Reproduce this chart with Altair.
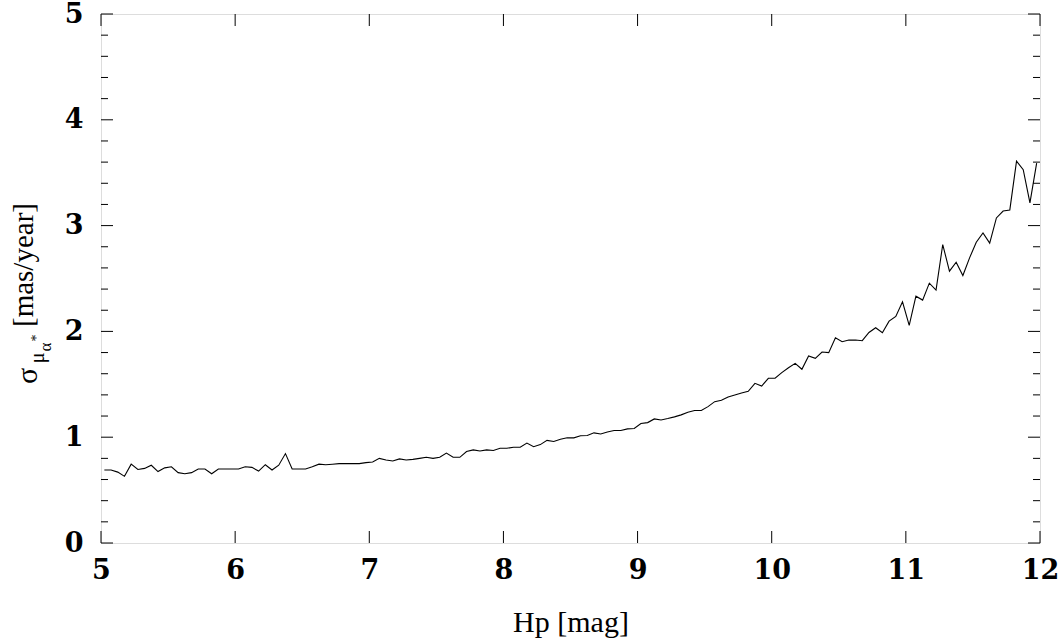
import altair as alt
import pandas as pd

# Hp magnitude bin centres
HP = [5.025, 5.075, 5.125, 5.175, 5.225, 5.275, 5.325, 5.375, 5.425, 5.475,
      5.525, 5.575, 5.625, 5.675, 5.725, 5.775, 5.825, 5.875, 5.925, 5.975,
      6.025, 6.075, 6.125, 6.175, 6.225, 6.275, 6.325, 6.375, 6.425, 6.475,
      6.525, 6.575, 6.625, 6.675, 6.725, 6.775, 6.825, 6.875, 6.925, 6.975,
      7.025, 7.075, 7.125, 7.175, 7.225, 7.275, 7.325, 7.375, 7.425, 7.475,
      7.525, 7.575, 7.625, 7.675, 7.725, 7.775, 7.825, 7.875, 7.925, 7.975,
      8.025, 8.075, 8.125, 8.175, 8.225, 8.275, 8.325, 8.375, 8.425, 8.475,
      8.525, 8.575, 8.625, 8.675, 8.725, 8.775, 8.825, 8.875, 8.925, 8.975,
      9.025, 9.075, 9.125, 9.175, 9.225, 9.275, 9.325, 9.375, 9.425, 9.475,
      9.525, 9.575, 9.625, 9.675, 9.725, 9.775, 9.825, 9.875, 9.925, 9.975,
      10.025, 10.075, 10.125, 10.175, 10.225, 10.275, 10.325, 10.375, 10.425, 10.475,
      10.525, 10.575, 10.625, 10.675, 10.725, 10.775, 10.825, 10.875, 10.925, 10.975,
      11.025, 11.075, 11.125, 11.175, 11.225, 11.275, 11.325, 11.375, 11.425, 11.475,
      11.525, 11.575, 11.625, 11.675, 11.725, 11.775, 11.825, 11.875, 11.925, 11.975]

# sigma of proper motion in RA [mas/year]
SIGMA = [0.69, 0.69, 0.67, 0.63, 0.745, 0.695, 0.705, 0.735, 0.675, 0.71,
         0.72, 0.665, 0.655, 0.665, 0.70, 0.70, 0.655, 0.70, 0.70, 0.70,
         0.70, 0.72, 0.715, 0.68, 0.74, 0.69, 0.735, 0.845, 0.70, 0.70,
         0.70, 0.72, 0.745, 0.74, 0.745, 0.75, 0.75, 0.75, 0.75, 0.76,
         0.765, 0.80, 0.785, 0.775, 0.795, 0.785, 0.79, 0.80, 0.81, 0.80,
         0.81, 0.85, 0.81, 0.81, 0.865, 0.88, 0.87, 0.88, 0.875, 0.895,
         0.895, 0.905, 0.905, 0.945, 0.91, 0.93, 0.97, 0.96, 0.98, 0.994,
         0.994, 1.013, 1.016, 1.041, 1.031, 1.05, 1.063, 1.063, 1.079, 1.082,
         1.129, 1.138, 1.173, 1.163, 1.176, 1.192, 1.211, 1.236, 1.252, 1.252,
         1.289, 1.336, 1.349, 1.381, 1.399, 1.418, 1.434, 1.509, 1.484, 1.557,
         1.557, 1.61, 1.657, 1.698, 1.642, 1.767, 1.745, 1.805, 1.799, 1.94,
         1.903, 1.918, 1.918, 1.912, 1.99, 2.035, 1.987, 2.097, 2.142, 2.28,
         2.057, 2.333, 2.296, 2.456, 2.39, 2.821, 2.569, 2.654, 2.528, 2.695,
         2.843, 2.931, 2.835, 3.072, 3.138, 3.148, 3.61, 3.528, 3.214, 3.59]

X_TICKS = [5, 6, 7, 8, 9, 10, 11, 12]
Y_TICKS = [0, 1, 2, 3, 4, 5]
Y_MINOR = [0.2, 0.4, 0.6, 0.8, 1.2, 1.4, 1.6, 1.8, 2.2, 2.4, 2.6, 2.8,
           3.2, 3.4, 3.6, 3.8, 4.2, 4.4, 4.6, 4.8]

W, H = 939, 529
LABEL_FONT = "DejaVu Serif"
TITLE_FONT = "Liberation Serif"

df = pd.DataFrame({"hp": HP, "sigma": SIGMA})
xt = pd.DataFrame({"v": X_TICKS})
yt = pd.DataFrame({"v": Y_TICKS})
ym = pd.DataFrame({"v": Y_MINOR})

xscale = alt.Scale(domain=[5, 12], nice=False, zero=False)
yscale = alt.Scale(domain=[0, 5], nice=False, zero=False)

xaxis = alt.Axis(values=X_TICKS, format="d", ticks=False, domain=False, grid=False,
                 labelFont=LABEL_FONT, labelFontSize=27, labelFontWeight="bold",
                 labelColor="black", labelPadding=14, labelFlush=False,
                 labelOverlap=False, labelBound=False,
                 title="Hp [mag]", titleFont=TITLE_FONT,
                 titleFontSize=30, titleFontWeight="normal", titleColor="black",
                 titleBaseline="alphabetic", titleY=88, titleX=W / 2)
yaxis = alt.Axis(values=Y_TICKS, format="d", ticks=False, domain=False, grid=False,
                 labelFont=LABEL_FONT, labelFontSize=27, labelFontWeight="bold",
                 labelColor="black", labelPadding=18, labelFlush=False,
                 labelOverlap=False, labelBound=False, title=None)

line = alt.Chart(df).mark_line(color="black", strokeWidth=1.1, clip=True).encode(
    x=alt.X("hp:Q", scale=xscale, axis=xaxis),
    y=alt.Y("sigma:Q", scale=yscale, axis=yaxis),
)

rule_kw = dict(color="black", strokeWidth=1)
ytick_major_l = alt.Chart(yt).mark_rule(**rule_kw).encode(
    y=alt.Y("v:Q", scale=yscale, axis=yaxis), x=alt.value(0), x2=alt.value(12))
ytick_major_r = alt.Chart(yt).mark_rule(**rule_kw).encode(
    y=alt.Y("v:Q", scale=yscale, axis=yaxis), x=alt.value(W - 12), x2=alt.value(W))
ytick_minor_l = alt.Chart(ym).mark_rule(**rule_kw).encode(
    y=alt.Y("v:Q", scale=yscale, axis=yaxis), x=alt.value(0), x2=alt.value(7))
ytick_minor_r = alt.Chart(ym).mark_rule(**rule_kw).encode(
    y=alt.Y("v:Q", scale=yscale, axis=yaxis), x=alt.value(W - 7), x2=alt.value(W))
xtick_b = alt.Chart(xt).mark_rule(**rule_kw).encode(
    x=alt.X("v:Q", scale=xscale, axis=xaxis), y=alt.value(H - 12), y2=alt.value(H))
xtick_t = alt.Chart(xt).mark_rule(**rule_kw).encode(
    x=alt.X("v:Q", scale=xscale, axis=xaxis), y=alt.value(0), y2=alt.value(12))

# y-axis title with subscripts, built from text pieces (rotated)
def ytxt(text, x, y, size, align="center"):
    return alt.Chart(pd.DataFrame({"t": [text]})).mark_text(
        font=TITLE_FONT, fontSize=size, angle=270, align=align, baseline="middle",
        color="black").encode(text="t:N", x=alt.value(x), y=alt.value(y))

ytitle = (ytxt("σ", -73, 362, 30)
          + ytxt("μ", -63, 344, 20)
          + ytxt("α", -55, 333, 17)
          + ytxt("*", -64, 324, 14)
          + ytxt("[mas/year]", -77, 313, 29, align="left"))

chart = alt.layer(
    line, ytick_major_l, ytick_major_r, ytick_minor_l, ytick_minor_r,
    xtick_b, xtick_t, ytitle
).properties(
    width=W, height=H,
    autosize=alt.AutoSizeParams(type="none"),
    padding={"left": 101, "top": 14, "right": 20, "bottom": 101},
).configure_view(stroke="black", strokeWidth=1.2).configure(background="white")

chart.save("out.html", embed_options={"renderer": "svg", "actions": False})
